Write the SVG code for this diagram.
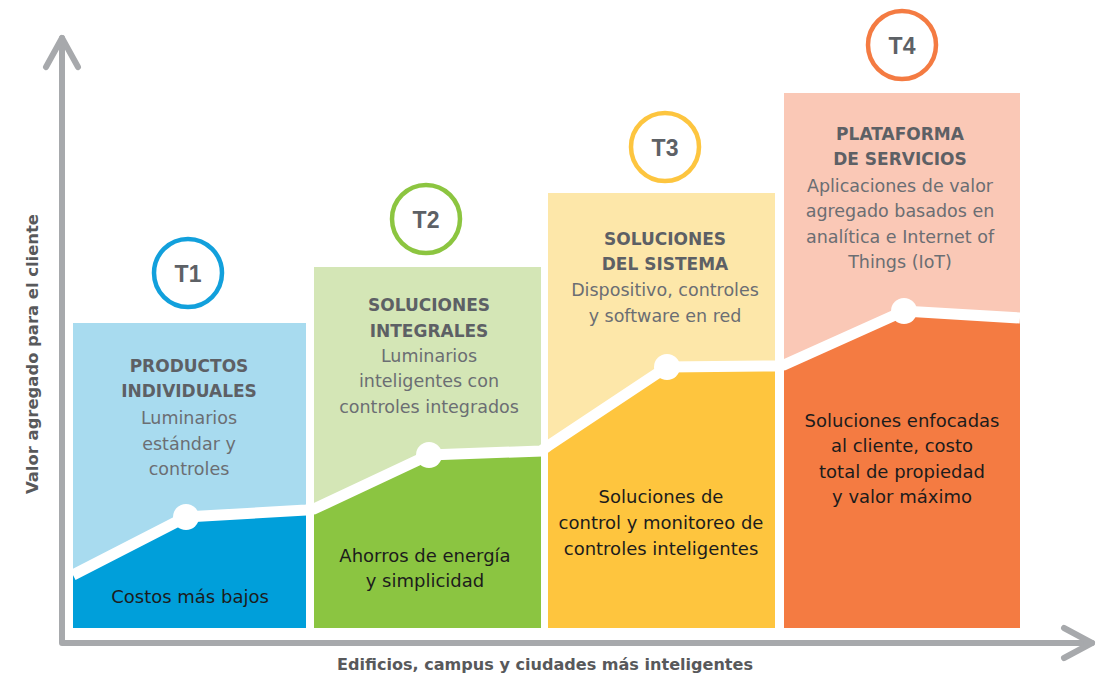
<svg xmlns="http://www.w3.org/2000/svg" width="1097" height="677" viewBox="0 0 1097 677">
<style>
.title{font-family:"DejaVu Sans",sans-serif;font-weight:bold;font-size:17px;fill:#5d6065;text-anchor:middle}
.desc{font-family:"DejaVu Sans",sans-serif;font-size:17.5px;fill:#6b6e73;text-anchor:middle}
.dark{font-family:"DejaVu Sans",sans-serif;font-size:18px;fill:#1c1c1c;text-anchor:middle}
.tl{font-family:"Liberation Sans",Arial,sans-serif;font-weight:bold;font-size:23px;fill:#5d6166;text-anchor:middle}
.ring{fill:#fff;stroke-width:4.5}
.axis{fill:none;stroke:#a7a9ac;stroke-width:6;stroke-linecap:round;stroke-linejoin:round}
.axlabel{font-family:"DejaVu Sans",sans-serif;font-weight:bold;font-size:16px;fill:#58595b;text-anchor:middle}
.dot{fill:#fff}
</style>
<rect width="1097" height="677" fill="#fff"/>

<g id="panel-t1">
<rect x="73" y="323" width="233" height="305" fill="#a8dbef"/>
<polygon points="73,575 186,517 306,510 306,628 73,628" fill="#009fda"/>
</g>
<g id="panel-t2">
<rect x="314" y="267" width="227" height="361" fill="#d4e6b6"/>
<polygon points="314,509 429,455 541,451 541,628 314,628" fill="#8bc541"/>
</g>
<g id="panel-t3">
<rect x="548" y="193" width="227" height="435" fill="#fde7a9"/>
<polygon points="548,446 667,367 775,366 775,628 548,628" fill="#fec53e"/>
</g>
<g id="panel-t4">
<rect x="784" y="93" width="236" height="535" fill="#fac8b6"/>
<polygon points="784,365 904,311 1020,318 1020,628 784,628" fill="#f47b42"/>
</g>

<g id="connectors">
<polyline points="73,575 186,517 306,510 314,509 429,455 541,451 548,446 667,367 775,366 784,365 904,311 1020,318" fill="none" stroke="#fff" stroke-width="11"/>
<circle class="dot" cx="186" cy="517" r="13"/>
<circle class="dot" cx="429" cy="455" r="13"/>
<circle class="dot" cx="667" cy="367" r="13"/>
<circle class="dot" cx="904" cy="311" r="13"/>
<polyline class="axis" points="62,38 62,643 1092,643"/>
<polyline class="axis" points="46,67 62,38 78,67"/>
<polyline class="axis" points="1064,628 1092,643 1064,658"/>
</g>

<g id="t1-text">
<circle class="ring" cx="188" cy="273" r="34" stroke="#12a0dc"/>
<text class="tl" x="188" y="282">T1</text>
<text class="title" x="189" y="372">PRODUCTOS</text>
<text class="title" x="189" y="397">INDIVIDUALES</text>
<text class="desc" x="189" y="424">Luminarios</text>
<text class="desc" x="189" y="450">estándar y</text>
<text class="desc" x="189" y="475">controles</text>
<text class="dark" x="190" y="603">Costos más bajos</text>
</g>

<g id="t2-text">
<circle class="ring" cx="426" cy="219" r="34" stroke="#8cc540"/>
<text class="tl" x="426" y="228">T2</text>
<text class="title" x="429" y="311">SOLUCIONES</text>
<text class="title" x="429" y="337">INTEGRALES</text>
<text class="desc" x="429" y="362">Luminarios</text>
<text class="desc" x="429" y="387">inteligentes con</text>
<text class="desc" x="429" y="413">controles integrados</text>
<text class="dark" x="425" y="562">Ahorros de energía</text>
<text class="dark" x="425" y="587">y simplicidad</text>
</g>

<g id="t3-text">
<circle class="ring" cx="665" cy="147" r="34" stroke="#fdc53f"/>
<text class="tl" x="665" y="156">T3</text>
<text class="title" x="665" y="245">SOLUCIONES</text>
<text class="title" x="665" y="270">DEL SISTEMA</text>
<text class="desc" x="665" y="296">Dispositivo, controles</text>
<text class="desc" x="665" y="322">y software en red</text>
<text class="dark" x="661" y="503">Soluciones de</text>
<text class="dark" x="661" y="529">control y monitoreo de</text>
<text class="dark" x="661" y="555">controles inteligentes</text>
</g>

<g id="t4-text">
<circle class="ring" cx="902" cy="45" r="34" stroke="#f47b42"/>
<text class="tl" x="902" y="54">T4</text>
<text class="title" x="900" y="140">PLATAFORMA</text>
<text class="title" x="900" y="165">DE SERVICIOS</text>
<text class="desc" x="900" y="192">Aplicaciones de valor</text>
<text class="desc" x="900" y="217">agregado basados en</text>
<text class="desc" x="900" y="243">analítica e Internet of</text>
<text class="desc" x="900" y="268">Things (IoT)</text>
<text class="dark" x="902" y="427">Soluciones enfocadas</text>
<text class="dark" x="902" y="452">al cliente, costo</text>
<text class="dark" x="902" y="478">total de propiedad</text>
<text class="dark" x="902" y="503">y valor máximo</text>
</g>

<g id="axis-labels">
<text class="axlabel" transform="translate(38,354) rotate(-90)" textLength="280" lengthAdjust="spacingAndGlyphs">Valor agregado para el cliente</text>
<text class="axlabel" x="545" y="670" textLength="416" lengthAdjust="spacingAndGlyphs">Edificios, campus y ciudades más inteligentes</text>
</g>
</svg>
